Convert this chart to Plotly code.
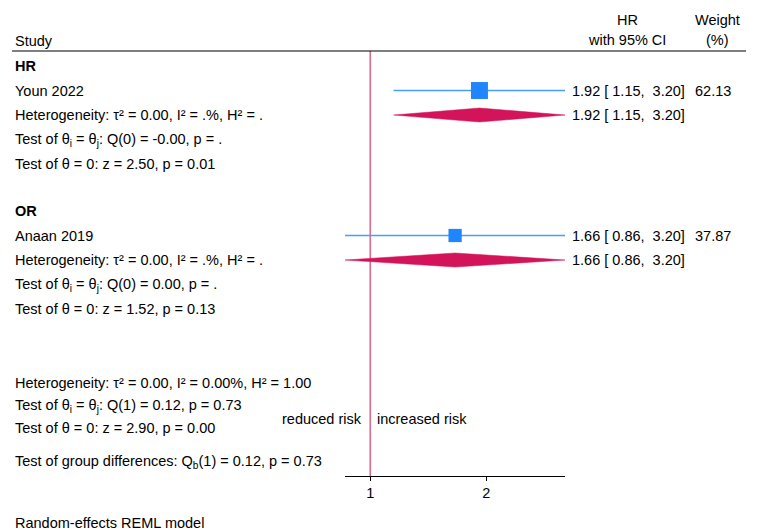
import numpy as np
import plotly.graph_objects as go

# study-level data
groups = ["HR", "OR"]
studies = ["Youn 2022", "Anaan 2019"]
est = [1.92, 1.66]
ci_lo = [1.15, 0.86]
ci_hi = [3.20, 3.20]
weights = [62.13, 37.87]

# pooled estimates per group (single study each)
pooled_est = [1.92, 1.66]
pooled_lo = [1.15, 0.86]
pooled_hi = [3.20, 3.20]

group_het = ["Heterogeneity: τ² = 0.00, I² = .%, H² = .",
             "Heterogeneity: τ² = 0.00, I² = .%, H² = ."]
group_q = ["Test of θ<sub>i</sub> = θ<sub>j</sub>: Q(0) = -0.00, p = .",
           "Test of θ<sub>i</sub> = θ<sub>j</sub>: Q(0) = 0.00, p = ."]
group_z = ["Test of θ = 0: z = 2.50, p = 0.01",
           "Test of θ = 0: z = 1.52, p = 0.13"]

overall_lines = ["Heterogeneity: τ² = 0.00, I² = 0.00%, H² = 1.00",
                 "Test of θ<sub>i</sub> = θ<sub>j</sub>: Q(1) = 0.12, p = 0.73",
                 "Test of θ = 0: z = 2.90, p = 0.00"]
group_diff = "Test of group differences: Q<sub>b</sub>(1) = 0.12, p = 0.73"

tick_vals = [1, 2]
tick_text = ["1", "2"]

W, H = 757, 532
FONT = "Liberation Sans, Arial, Helvetica, sans-serif"
FS = 14.5
BLUE_LINE = "#4a9bff"
BLUE = "#1f86ff"
RED = "#d3145a"
REF = "#dd6b88"

# row layout (pixels from top)
group_top = [66, 211]
row_gap = 24.5
overall_rows = [383, 406, 428]
diff_row = 462
axis_y = 476
header_y = 51


def px(x):
    return x / W


def ci_text(e, l, h):
    return f"{e:.2f} [{l:5.2f}, {h:5.2f}]".replace(" ", "\u00a0")


fig = go.Figure()
ann = []


def text(x, y, s, anchor="left", size=FS, yref="y"):
    ann.append(dict(x=px(x), y=y, xref="paper", yref=yref, text=s, showarrow=False,
                    xanchor=anchor, yanchor="middle", font=dict(size=size, color="black", family=FONT)))


# reference line at 1
fig.add_trace(go.Scatter(x=[1, 1], y=[header_y, axis_y], mode="lines",
                         line=dict(color=REF, width=1.6), hoverinfo="skip", showlegend=False))

for i, g in enumerate(groups):
    y0 = group_top[i]
    ys = y0 + row_gap
    yd = y0 + 2 * row_gap
    text(13, y0, f"<b>{g}</b>")
    text(13, ys, studies[i])
    text(13, yd, group_het[i])
    text(13, y0 + 3 * row_gap, group_q[i])
    text(13, y0 + 4 * row_gap, group_z[i])

    # CI line
    fig.add_trace(go.Scatter(x=[ci_lo[i], ci_hi[i]], y=[ys, ys], mode="lines",
                             line=dict(color=BLUE_LINE, width=1.6), hoverinfo="skip", showlegend=False))
    # weighted square
    fig.add_trace(go.Scatter(x=[est[i]], y=[ys], mode="markers",
                             marker=dict(symbol="square", size=2.15 * np.sqrt(weights[i]), color=BLUE,
                                         line=dict(width=0)),
                             hoverinfo="skip", showlegend=False))
    # pooled diamond
    hh = 7
    fig.add_trace(go.Scatter(x=[pooled_lo[i], pooled_est[i], pooled_hi[i], pooled_est[i], pooled_lo[i]],
                             y=[yd, yd - hh, yd, yd + hh, yd], mode="lines", fill="toself",
                             fillcolor=RED, line=dict(color=RED, width=0.5),
                             hoverinfo="skip", showlegend=False))
    text(570, ys, ci_text(est[i], ci_lo[i], ci_hi[i]))
    text(570, yd, ci_text(pooled_est[i], pooled_lo[i], pooled_hi[i]))
    text(733, ys, f"{weights[i]:.2f}", anchor="right")

for yy, s in zip(overall_rows, overall_lines):
    text(13, yy, s)
text(13, diff_row, group_diff)

# headers
text(13, 41, "Study")
text(627, 20, "HR", anchor="center")
text(627, 40, "with 95% CI", anchor="center")
text(717, 20, "Weight", anchor="center")
text(717, 40, "(%)", anchor="center")

text(364, 419, "reduced risk", anchor="right")
text(375, 419, "increased risk")
ann.append(dict(x=px(13), y=(H - 523) / H, xref="paper", yref="paper", text="Random-effects REML model",
                showarrow=False, xanchor="left", yanchor="middle", font=dict(size=FS, color="black", family=FONT)))

fig.add_shape(type="line", xref="paper", yref="y", x0=px(12), x1=px(746), y0=header_y, y1=header_y,
              line=dict(color="black", width=1.2))

lo_r, hi_r = min(ci_lo), max(ci_hi)
fig.update_layout(
    width=W, height=H,
    margin=dict(l=0, r=0, t=0, b=0),
    paper_bgcolor="white", plot_bgcolor="white",
    font=dict(family=FONT, size=FS, color="black"),
    annotations=ann,
    xaxis=dict(type="log", domain=[px(345), px(565)], range=[np.log10(lo_r), np.log10(hi_r)],
               tickvals=tick_vals, ticktext=tick_text, showgrid=False, zeroline=False,
               showline=True, linecolor="black", linewidth=1, ticks="outside", ticklen=4,
               tickcolor="black", tickfont=dict(size=FS, color="black", family=FONT)),
    yaxis=dict(domain=[(H - axis_y) / H, 1], range=[axis_y, 0], visible=False),
)

# drop the page's default body margin so the figure sits at the window corner
fig.write_html("out.html", config={"displayModeBar": False},
               post_script="document.body.style.margin='0';document.body.style.overflow='hidden';")
